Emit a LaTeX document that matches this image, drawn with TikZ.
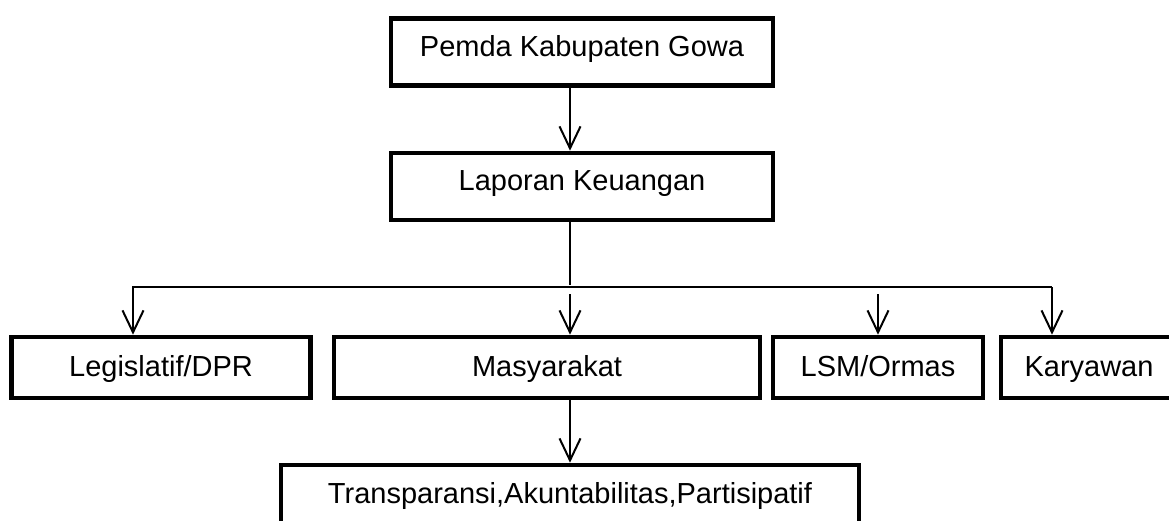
\documentclass[tikz,border=0pt]{standalone}
\usepackage{fontspec}
\setmainfont{Liberation Sans}
\usetikzlibrary{arrows.meta}
\tikzset{box/.style = {shape=rectangle,draw,line width=4.6pt,minimum height=61pt,inner sep=0pt,text height=22pt,text depth=5pt}}
\tikzset{headbox/.style = {box,minimum height=67pt,text height=20pt,text depth=11pt}}
\tikzset{edge/.style = {->,> = {Straight Barb[length=22pt,width=21pt]},line width=2pt}}

\begin{document}
\begin{tikzpicture}[x=1pt,y=-1pt,font=\fontsize{29}{34}\selectfont]
          \useasboundingbox (0,0) rectangle (1169,521);
          \node[headbox,minimum width=382pt] (pemda) at (582,52) {Pemda Kabupaten Gowa~};
          \node[headbox,minimum width=382pt] (lapor) at (582,186.5) {Laporan Keuangan};
          \node[box,minimum width=299pt] (legis) at (161,367.5) {Legislatif/DPR};
          \node[box,minimum width=426pt] (masya) at (547,367.5) {Masyarakat};
          \node[box,minimum width=210pt] (lsm) at (878,367.5) {LSM/Ormas};
          \node[box,minimum width=176pt] (karya) at (1089,367.5) {Karyawan};
          \node[box,minimum width=578pt,minimum height=64pt,text height=21pt,text depth=8pt] (trans) at (570,497) {Transparansi,Akuntabilitas,Partisipatif};

          \coordinate (bus) at (570,287);
          \coordinate (busL) at (133,287);
          \coordinate (busR) at (1052,287);

          \draw[edge] (pemda.south -| bus) to (lapor.north -| bus);
          \draw[line width=2pt] (lapor.south -| bus) to ([yshift=2pt]bus);
          \draw[edge] (busR) -- (busL) -- (busL |- legis.north);
          \draw[edge] (busR) -- (busR |- karya.north);
          \draw[edge] ([yshift=-7pt]bus) to (bus |- masya.north);
          \draw[edge] ([yshift=-7pt]bus -| lsm) to (lsm.north);
          \draw[edge] (masya.south -| bus) to (trans.north -| bus);
        \end{tikzpicture}
\end{document}
